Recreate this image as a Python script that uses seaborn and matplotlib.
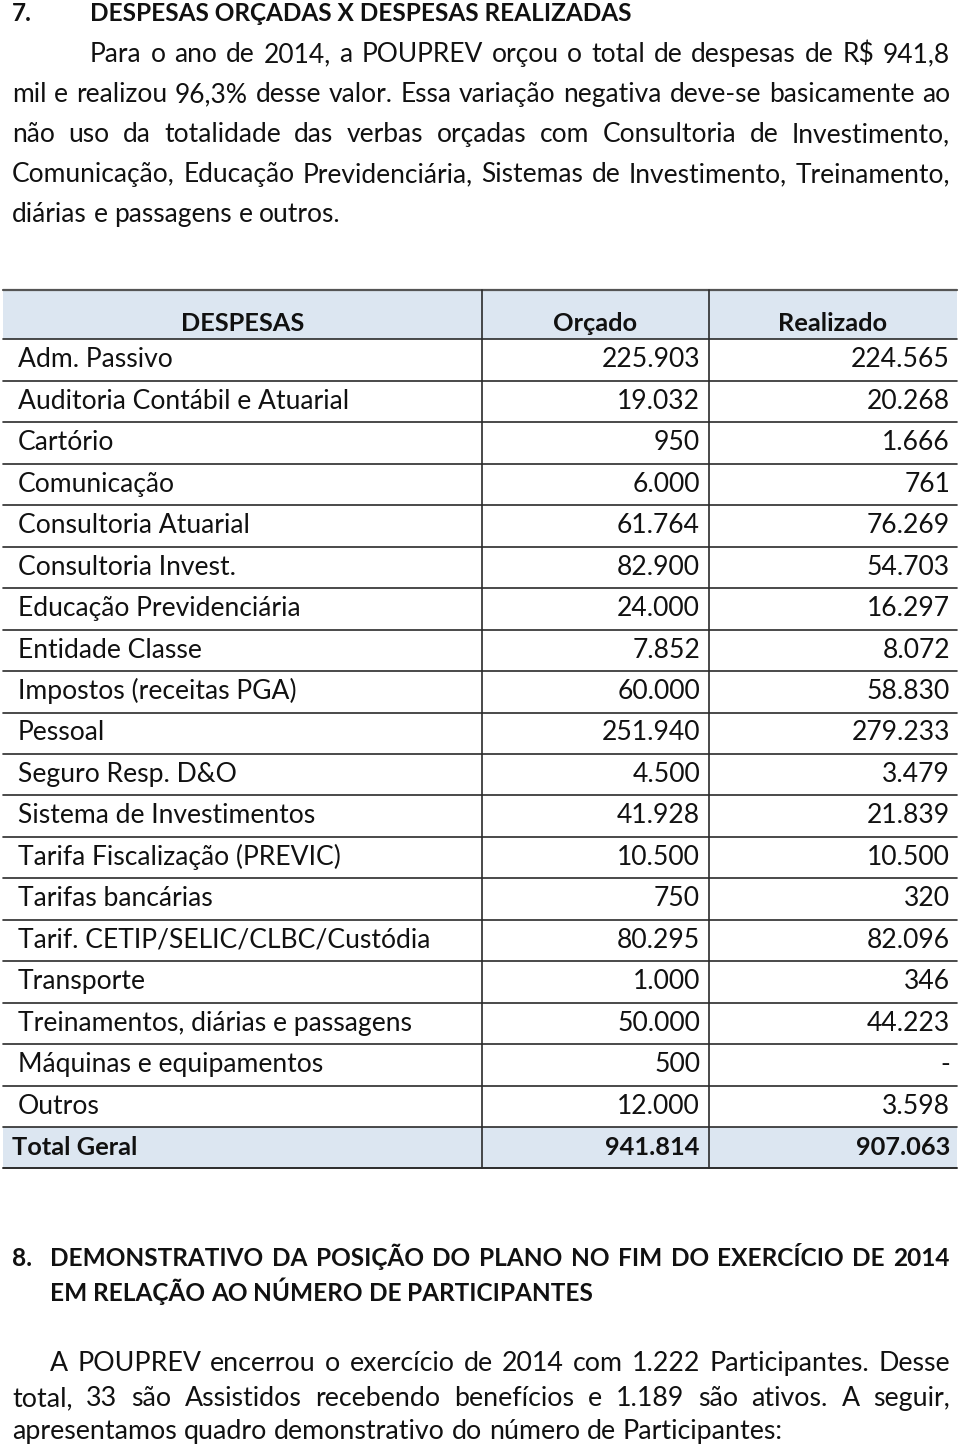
import matplotlib
matplotlib.use("Agg")
import matplotlib.pyplot as plt
import seaborn as sns

# ---------------- data ----------------
section7_title = "DESPESAS ORÇADAS X DESPESAS REALIZADAS"
section7_lines = [
    "Para o ano de 2014, a POUPREV orçou o total de despesas de R$ 941,8",
    "mil e realizou 96,3% desse valor. Essa variação negativa deve-se basicamente ao",
    "não uso da totalidade das verbas orçadas com Consultoria de Investimento,",
    "Comunicação, Educação Previdenciária, Sistemas de Investimento, Treinamento,",
    "diárias e passagens e outros.",
]
col_headers = ["DESPESAS", "Orçado", "Realizado"]
despesas = [
    "Adm. Passivo", "Auditoria Contábil e Atuarial", "Cartório", "Comunicação",
    "Consultoria Atuarial", "Consultoria Invest.", "Educação Previdenciária",
    "Entidade Classe", "Impostos (receitas PGA)", "Pessoal", "Seguro Resp. D&O",
    "Sistema de Investimentos", "Tarifa Fiscalização (PREVIC)", "Tarifas bancárias",
    "Tarif. CETIP/SELIC/CLBC/Custódia", "Transporte",
    "Treinamentos, diárias e passagens", "Máquinas e equipamentos", "Outros",
]
orcado = [225903, 19032, 950, 6000, 61764, 82900, 24000, 7852, 60000, 251940,
          4500, 41928, 10500, 750, 80295, 1000, 50000, 500, 12000]
realizado = [224565, 20268, 1666, 761, 76269, 54703, 16297, 8072, 58830, 279233,
             3479, 21839, 10500, 320, 82096, 346, 44223, None, 3598]
total_label = "Total Geral"
total_orcado = 941814
total_realizado = 907063
section8_title = [
    "DEMONSTRATIVO DA POSIÇÃO DO PLANO NO FIM DO EXERCÍCIO DE 2014",
    "EM RELAÇÃO AO NÚMERO DE PARTICIPANTES",
]
section8_lines = [
    "A POUPREV encerrou o exercício de 2014 com 1.222 Participantes. Desse",
    "total, 33 são Assistidos recebendo benefícios e 1.189 são ativos. A seguir,",
    "apresentamos quadro demonstrativo do número de Participantes:",
]

# ---------------- style ----------------
sns.set_theme(style="white")
BODY = ["Lato", "DejaVu Sans"]
plt.rcParams["font.family"] = BODY
FS_P = 19.0      # paragraph text
FS_T7 = 17.6     # section 7 title (bold)
FS_TB = 19.1     # table body
FS_TBB = 18.3    # table bold (header / total)
FS8T = 17.6
FS8 = 19.3
TXT = "#111111"
LINE = "#2b2b2b"
FILL = "#dce6f1"


def fmt(v):
    if v is None:
        return "-"
    return f"{v:,}".replace(",", ".")


fig = plt.figure(figsize=(9.6, 14.47), dpi=100)
ax = fig.add_axes([0, 0, 1, 1])
ax.set_xlim(0, 960)
ax.set_ylim(1447, 0)
ax.axis("off")
renderer = fig.canvas.get_renderer()
inv = ax.transData.inverted()


def width_of(t):
    bb = t.get_window_extent(renderer)
    (x0, _), (x1, _) = inv.transform([(bb.x0, 0), (bb.x1, 0)])
    return abs(x1 - x0)


def draw_line(text, x0, x1, y, justify=True, **kw):
    words = text.split(" ")
    objs = [ax.text(0, y, w, va="baseline", ha="left", color=TXT, **kw) for w in words]
    widths = [width_of(o) for o in objs]
    probe = ax.text(0, y, "a a", **kw)
    probe2 = ax.text(0, y, "aa", **kw)
    sp = width_of(probe) - width_of(probe2)
    probe.remove()
    probe2.remove()
    if justify and len(words) > 1:
        gap = (x1 - x0 - sum(widths)) / (len(words) - 1)
    else:
        gap = sp
    x = x0
    for o, w in zip(objs, widths):
        o.set_x(x)
        x += w + gap


# ---------------- section 7 ----------------
ax.text(12, 21, "7.", fontsize=FS_T7, fontweight="bold", va="baseline", color=TXT)
ax.text(90, 21, section7_title, fontsize=FS_T7, fontweight="bold", va="baseline", color=TXT)
para_base = [62, 102, 142, 182, 222]
for i, (ln, yb) in enumerate(zip(section7_lines, para_base)):
    x0 = 90 if i == 0 else 12
    draw_line(ln, x0, 950, yb, justify=(i < len(section7_lines) - 1), fontsize=FS_P)

# ---------------- table ----------------
x_left, x_c1, x_c2, x_right = 3, 482, 709, 957
head_top, head_bot = 290, 339.3
row_h = 41.47
n = len(despesas)
tot_top = head_bot + row_h * n
tot_bot = 1168

ax.fill_between([x_left, x_right], head_top, head_bot, color=FILL, lw=0, zorder=0)
ax.fill_between([x_left, x_right], tot_top, tot_bot, color=FILL, lw=0, zorder=0)
ax.plot([x_left, x_right], [head_top, head_top], color="#555555", lw=1.6)
for k in range(n + 1):
    yy = head_bot + row_h * k
    ax.plot([x_left, x_right], [yy, yy], color=LINE, lw=1.2)
ax.plot([x_left, x_right], [tot_bot, tot_bot], color=LINE, lw=1.4)
for xv in (x_c1, x_c2):
    ax.plot([xv, xv], [head_top, tot_bot], color=LINE, lw=1.2)

hx = [(x_left + x_c1) / 2, (x_c1 + x_c2) / 2, (x_c2 + x_right) / 2]
for h, xh in zip(col_headers, hx):
    ax.text(xh, 331, h, fontsize=FS_TBB, fontweight="bold", ha="center", va="baseline", color=TXT)

for k, (lab, o, r) in enumerate(zip(despesas, orcado, realizado)):
    yb = head_bot + row_h * (k + 1) - 13.5
    ax.text(18, yb, lab, fontsize=FS_TB, va="baseline", color=TXT)
    ax.text(700, yb, fmt(o), fontsize=FS_TB, ha="right", va="baseline", color=TXT)
    ax.text(950, yb, fmt(r), fontsize=FS_TB, ha="right", va="baseline", color=TXT)

ax.text(12, 1155, total_label, fontsize=FS_TBB, fontweight="bold", va="baseline", color=TXT)
ax.text(700, 1155, fmt(total_orcado), fontsize=FS_TBB, fontweight="bold", ha="right", va="baseline", color=TXT)
ax.text(950, 1155, fmt(total_realizado), fontsize=FS_TBB, fontweight="bold", ha="right", va="baseline", color=TXT)

# ---------------- section 8 ----------------
ax.text(12, 1266, "8.", fontsize=FS8T, fontweight="bold", va="baseline", color=TXT)
draw_line(section8_title[0], 50, 950, 1266, justify=True, fontsize=FS8T, fontweight="bold")
draw_line(section8_title[1], 50, 950, 1301, justify=False, fontsize=FS8T, fontweight="bold")
s8_base = [1371, 1406, 1439]
for i, (ln, yb) in enumerate(zip(section8_lines, s8_base)):
    x0 = 50 if i == 0 else 12
    draw_line(ln, x0, 950, yb, justify=(i < len(section8_lines) - 1), fontsize=FS8)

fig.savefig("out.png", dpi=100, facecolor="white")
